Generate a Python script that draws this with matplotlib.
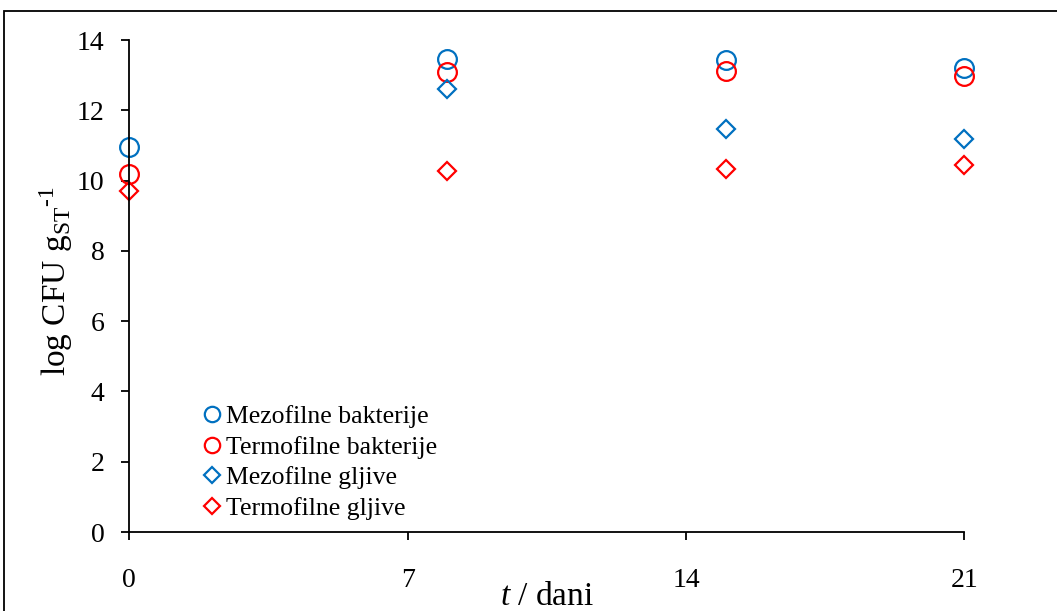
import matplotlib
matplotlib.use("Agg")
import matplotlib.pyplot as plt
from matplotlib.patches import Rectangle

days = [0, 8, 15, 21]
mezo_bakt = [10.96, 13.47, 13.43, 13.21]
termo_bakt = [10.19, 13.09, 13.13, 12.98]
mezo_gljive_days = [8, 15, 21]
mezo_gljive = [12.61, 11.47, 11.19]
termo_gljive = [9.70, 10.28, 10.34, 10.45]
labels = ["Mezofilne bakterije", "Termofilne bakterije", "Mezofilne gljive", "Termofilne gljive"]
x_ticks = [0, 7, 14, 21]
y_ticks = list(range(0, 15, 2))

BLUE = "#0070C0"
RED = "#FF0000"

plt.rcParams["font.family"] = ["Liberation Serif", "DejaVu Serif"]
plt.rcParams["mathtext.fontset"] = "custom"
plt.rcParams["mathtext.rm"] = "Liberation Serif"
plt.rcParams["mathtext.it"] = "Liberation Serif:italic"

fig = plt.figure(figsize=(10.57, 6.11), dpi=100)
W, H = 1057, 611
ax = fig.add_axes([129.3 / W, 1 - 532 / H, (964.3 - 129.3) / W, (532 - 40) / H])

mk = dict(linestyle="none", markerfacecolor="none", markeredgewidth=1.6, clip_on=False)
ax.plot(days, mezo_bakt, marker="o", markersize=13.5, markeredgecolor=BLUE, label=labels[0], **mk)
ax.plot(days, termo_bakt, marker="o", markersize=13.5, markeredgecolor=RED, label=labels[1], **mk)
ax.plot(mezo_gljive_days, mezo_gljive, marker="D", markersize=9.5, markeredgecolor=BLUE, label=labels[2], **mk)
ax.plot(days, termo_gljive, marker="D", markersize=9.5, markeredgecolor=RED, label=labels[3], **mk)

ax.set_xlim(0, 21)
ax.set_ylim(0, 14)
ax.set_xticks(x_ticks)
ax.set_yticks(y_ticks)
for s in ["top", "right"]:
    ax.spines[s].set_visible(False)
for s in ["left", "bottom"]:
    ax.spines[s].set_linewidth(1.3)
ax.tick_params(axis="both", direction="out", length=6, width=1.3, labelsize=20)
ax.tick_params(axis="y", pad=12)
ax.tick_params(axis="x", pad=20)

ax.set_xlabel(r"$t$ / dani", fontsize=24, va="center")
ax.xaxis.set_label_coords(0.5, (532 - 597) / 492)
ax.set_ylabel(r"log CFU g$_{\mathrm{ST}}$$^{\text{-1}}$", fontsize=24, va="center")
ax.yaxis.set_label_coords((56 - 129.3) / 835, 0.51)

leg = ax.legend(loc="upper left", bbox_to_anchor=((202 - 129.3) / 835, (532 - 405) / 492),
                frameon=False, fontsize=18.5, handlelength=0.8, handletextpad=0.15,
                labelspacing=0.3, borderaxespad=0, borderpad=0)
for h in leg.legend_handles:
    h.set_markersize(h.get_markersize() * 0.82)

fig.patches.append(Rectangle((4 / W, -0.05), 1.1, 1 - 11 / H + 0.05, transform=fig.transFigure,
                             fill=False, edgecolor="black", linewidth=1.3))

fig.savefig("out.png", dpi=100)
